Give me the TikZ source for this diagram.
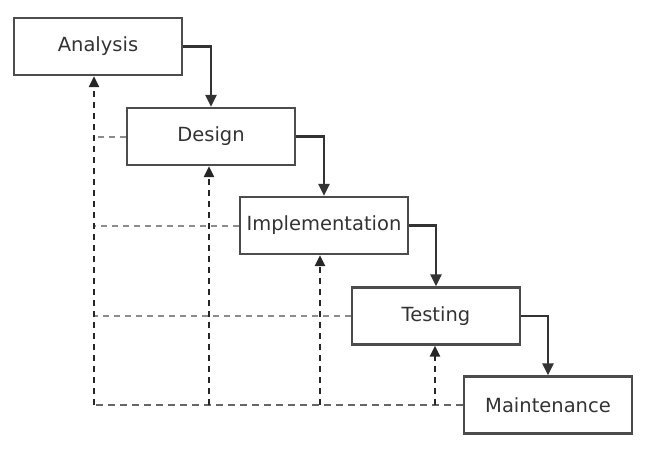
\documentclass[tikz,border=0pt]{standalone}
\usepackage{fontspec}
\setmainfont{DejaVu Sans}
\usetikzlibrary{arrows.meta}
\begin{document}
\begin{tikzpicture}[x=1pt,y=-1pt,
 phase/.style={draw=black!70, line width=2.3pt, minimum width=168pt, minimum height=57pt, inner sep=0pt, font=\fontsize{19.5}{23}\selectfont, text=black!80},
 flow/.style={draw=black!80, line width=2.4pt, -{Triangle[length=12pt,width=11pt]}},
 back/.style={draw=black!85, line width=2.8pt, dash pattern=on 6pt off 5pt, -{Triangle[length=11pt,width=10pt]}},
 base/.style={draw=black!60, line width=2.6pt, dash pattern=on 7pt off 5pt},
 link/.style={draw=black!45, line width=2pt, dash pattern=on 6pt off 5pt},
]
\useasboundingbox (0,0) rectangle (645,448);
\node[phase] (a) at (98,46.5) {Analysis};
\node[phase] (d) at (211,136.5) {Design};
\node[phase] (i) at (324,225.5) {Implementation};
\node[phase] (t) at (436,316) {Testing};
\node[phase] (m) at (548,405) {Maintenance};
\coordinate (c0) at (94,405);
% forward flow
\draw[flow] (a.east) -| (d.north);
\draw[flow] (d.east) -| (i.north);
\draw[flow] (i.east) -| (t.north);
\draw[flow] (t.east) -| (m.north);
% feedback links
\draw[link] (d.west) -- (d.west -| c0);
\draw[link] (i.west) -- (i.west -| c0);
\draw[link] (t.west) -- (t.west -| c0);
\draw[base] (m.west) -- (c0);
\draw[back] (c0) -- (c0 |- a.south);
\draw[back] ([xshift=-2pt]d.south |- c0) -- ([xshift=-2pt]d.south);
\draw[back] ([xshift=-4pt]i.south |- c0) -- ([xshift=-4pt]i.south);
\draw[back] ([xshift=-1pt]t.south |- c0) -- ([xshift=-1pt]t.south);
\end{tikzpicture}
\end{document}
